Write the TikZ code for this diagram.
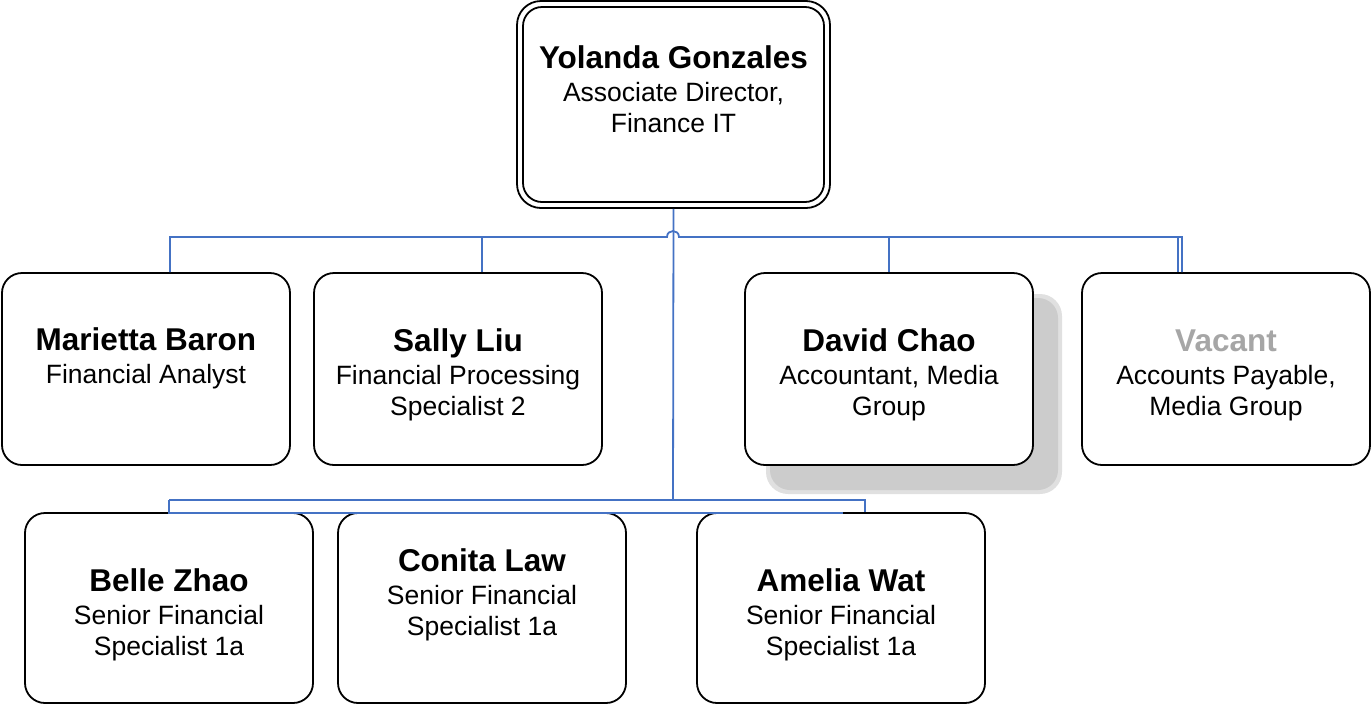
\documentclass[tikz,border=0pt]{standalone}
\usepackage{fontspec}
\setmainfont{Liberation Sans}
\definecolor{conn}{HTML}{4472C4}
\definecolor{vacant}{HTML}{A6A6A6}
\definecolor{shadowgray}{HTML}{CCCCCC}
\tikzset{
  box/.style={draw=black, line width=1.8pt, rounded corners=20pt, fill=white,
    minimum width=288pt, minimum height=192pt, inner sep=0pt},
  txt/.style={align=center, inner sep=0pt, font=\fontsize{26.5}{31}\selectfont},
  wire/.style={draw=conn, line width=1.8pt},
}
\newcommand{\nm}[1]{{\bfseries\fontsize{31.5}{36}\selectfont #1}\\[2pt]}
\begin{document}
\begin{tikzpicture}[x=1pt,y=-1pt]
\useasboundingbox (0,0) rectangle (1372,705);
% shadow of David Chao
\fill[shadowgray!60, rounded corners=22pt] (766,294) rectangle (1062,494);
\fill[shadowgray, rounded corners=20pt] (770,298) rectangle (1058,490);
% top box
\node[box, minimum width=313pt, minimum height=207pt, rounded corners=24pt] (top) at (673.5,104.5) {};
\node[draw=black, line width=1.8pt, rounded corners=19pt, minimum width=301pt, minimum height=195pt, inner sep=0pt] (topin) at (673.5,104.5) {};
\node[txt] (toptx) at (673.5,89) {\nm{Yolanda Gonzales}Associate Director,\\Finance IT};
% row 1
\node[box] (mar) at (146,369) {};
\node[txt] (martx) at (146,358.5) {\nm{Marietta Baron}Financial Analyst};
\node[box] (sal) at (458,369) {};
\node[txt] (saltx) at (458,374.5) {\nm{Sally Liu}Financial Processing\\Specialist 2};
\node[box] (dav) at (889,369) {};
\node[txt] (davtx) at (889,374.5) {\nm{David Chao}Accountant, Media\\Group};
\node[box] (vac) at (1226,369) {};
\node[txt] (vactx) at (1226,375) {{\bfseries\fontsize{31.5}{36}\selectfont\color{vacant}Vacant}\\[2pt]Accounts Payable,\\Media Group};
% row 2
\node[box, minimum height=190pt] (bel) at (169,608) {};
\node[txt] (beltx) at (169,614.5) {\nm{Belle Zhao}Senior Financial\\Specialist 1a};
\node[box, minimum height=190pt] (con) at (482,608) {};
\node[txt] (contx) at (482,594.5) {\nm{Conita Law}Senior Financial\\Specialist 1a};
\node[box, minimum height=190pt] (ame) at (841,608) {};
\node[txt] (ametx) at (841,614.5) {\nm{Amelia Wat}Senior Financial\\Specialist 1a};
% bus coordinates
\coordinate (busL) at (170,237);
\coordinate (hopL) at (667,237);
\coordinate (hopR) at (679,237);
\coordinate (busR) at (1182,237);
\coordinate (busR2) at (1178,237);
\coordinate (jb) at (673,500);
\coordinate (lowL) at (169,500);
\coordinate (lowR) at (865,500);
\coordinate (lowL2) at (169,513);
\coordinate (lowE) at (843,513);
% connectors
\draw[wire] (top.south) -- (jb);
\draw[wire] (mar.north -| busL) -- (busL) -- (hopL) .. controls (667,229) and (679,229) .. (hopR) -- (busR) -- (vac.north -| busR);
\draw[wire] (busR2) -- (vac.north -| busR2);
\draw[wire] (sal.north -| 482,0) -- (482,237);
\draw[wire] (dav.north) -- (dav.north |- busL);
\draw[wire] (lowL) -- (lowR) -- (ame.north -| lowR);
\draw[wire] (lowL) -- (lowL2) -- (lowE);
\end{tikzpicture}
\end{document}
